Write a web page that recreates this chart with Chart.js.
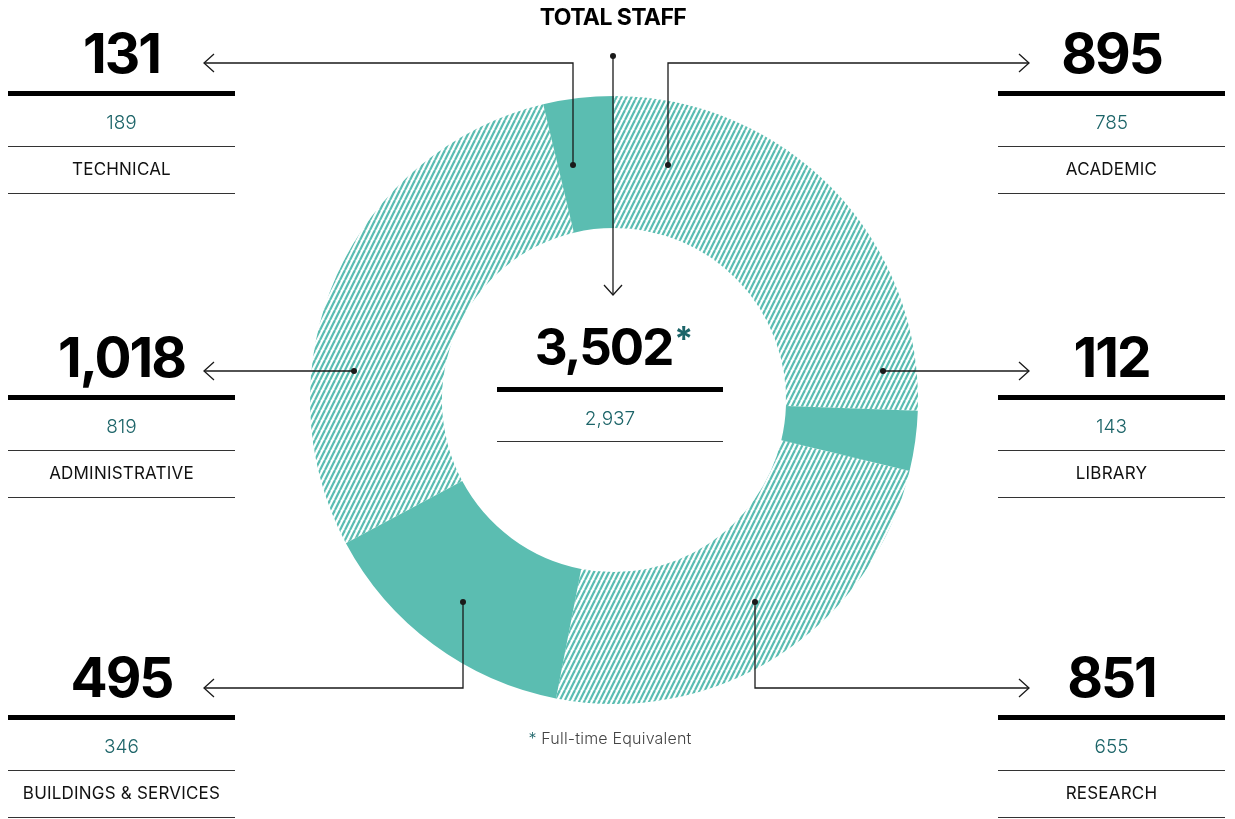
<!DOCTYPE html>
<html>
<head>
<meta charset="utf-8">
<script src="https://cdn.jsdelivr.net/npm/chart.js@4.4.0/dist/chart.umd.min.js"></script>
<style>
body{margin:0;background:#fff;font-family:Inter,"Liberation Sans",Arial,sans-serif;color:#111}
#wrap{position:relative;width:1235px;height:819px;overflow:hidden}
#myChart{position:absolute;left:0;top:0}
.t{position:absolute;text-align:center;white-space:nowrap}
.big{font-weight:700;font-size:55px;line-height:60px;letter-spacing:-2px;color:#000}
.fte{font-size:19px;line-height:24px;color:#1c6468;font-weight:300}
.lab{font-size:17px;line-height:24px;color:#111;letter-spacing:0.2px}
.rule{position:absolute;background:#000}
.thin{position:absolute;height:1px;background:#333}
</style>
</head>
<body>
<div id="wrap">
  <canvas id="myChart" width="1235" height="819"></canvas>
</div>
<script>
// data, clockwise from 12 o'clock
const categories = ['ACADEMIC', 'LIBRARY', 'RESEARCH', 'BUILDINGS & SERVICES', 'ADMINISTRATIVE', 'TECHNICAL']
const headcount = [895, 112, 851, 495, 1018, 131]
const fte = [785, 143, 655, 346, 819, 189]
const hatched = [true, false, true, false, true, false]

const TEAL = '#5bbdb1'
const INK = '#1a1a1a'

// where each category's label block sits (left/right column, row)
const blockSide = ['right', 'right', 'right', 'left', 'left', 'left']
const blockRow = [0, 1, 2, 2, 1, 0]
const rowRule = [91, 395, 715]
const colX = {left: 8, right: 998}

const fmt = n => n.toLocaleString('en-US')

// label blocks
const wrap = document.getElementById('wrap')
function add(cls, txt, x, y, w){
    const d = document.createElement('div')
    d.className = cls
    d.style.left = x + 'px'
    d.style.top = y + 'px'
    if (w) d.style.width = w + 'px'
    if (txt !== null) d.innerHTML = txt
    wrap.appendChild(d)
    return d
}
for (let i = 0; i < categories.length; i++){
    const x = colX[blockSide[i]]
    const R = rowRule[blockRow[i]]
    add('t big', fmt(headcount[i]), x, R - 68, 227)
    const r = add('rule', null, x, R, 227); r.style.height = '5px'
    add('t fte', fmt(fte[i]), x, R + 20, 227)
    add('thin', null, x, R + 55, 227)
    add('t lab', categories[i], x, R + 66, 227)
    add('thin', null, x, R + 102, 227)
}

// centre block
const total = headcount.reduce((a, b) => a + b, 0)
const totalFte = fte.reduce((a, b) => a + b, 0)
const c = add('t big', fmt(total) + '<span style="color:#1c6468;font-size:34px;vertical-align:top;position:relative;top:-8px;margin-left:2px">*</span>', 500, 317, 226)
c.style.fontSize = '51px'
const cr = add('rule', null, 497, 387, 226); cr.style.height = '5px'
add('t fte', fmt(totalFte), 497, 407, 226)
add('thin', null, 497, 441, 226)
const ts = add('t', 'TOTAL STAFF', 513, 4, 200)
ts.style.cssText += 'font-weight:700;font-size:23px;line-height:26px;letter-spacing:-0.6px;color:#000'
const fn = add('t', '<span style="color:#1c6468">*</span> Full-time Equivalent', 510, 728, 200)
fn.style.cssText += 'font-size:16px;line-height:20px;color:#444;font-weight:300;letter-spacing:0.2px'

// hatch fill
function makeHatch(){
    const p = document.createElement('canvas')
    p.width = 5; p.height = 10
    const g = p.getContext('2d')
    g.strokeStyle = TEAL
    g.lineWidth = 2.2
    for (let k = -1; k <= 1; k++){
        g.beginPath()
        g.moveTo(k * 5, 10)
        g.lineTo(k * 5 + 5, 0)
        g.stroke()
    }
    return g.createPattern(p, 'repeat')
}
const hatch = makeHatch()
const fills = hatched.map(h => h ? hatch : TEAL)

// leader lines: dot -> elbow -> arrow
const leaders = [
    [[613, 56], [613, 295]],
    [[668, 165], [668, 63], [1029, 63]],
    [[883, 371], [1029, 371]],
    [[755, 602], [755, 688], [1029, 688]],
    [[463, 602], [463, 688], [204, 688]],
    [[354, 371], [204, 371]],
    [[573, 165], [573, 63], [204, 63]]
]

const leaderPlugin = {
    id: 'leaders',
    afterDraw(chart){
        const g = chart.ctx
        g.save()
        g.strokeStyle = INK
        g.fillStyle = INK
        g.lineWidth = 1.3
        leaders.forEach(pts => {
            g.beginPath()
            g.moveTo(pts[0][0], pts[0][1])
            for (let i = 1; i < pts.length; i++) g.lineTo(pts[i][0], pts[i][1])
            g.stroke()
            g.beginPath()
            g.arc(pts[0][0], pts[0][1], 3, 0, Math.PI * 2)
            g.fill()
            // arrow head
            const [x1, y1] = pts[pts.length - 2]
            const [x2, y2] = pts[pts.length - 1]
            const a = Math.atan2(y2 - y1, x2 - x1)
            g.beginPath()
            g.moveTo(x2 - 10 * Math.cos(a) + 9 * Math.sin(a), y2 - 10 * Math.sin(a) - 9 * Math.cos(a))
            g.lineTo(x2, y2)
            g.lineTo(x2 - 10 * Math.cos(a) - 9 * Math.sin(a), y2 - 10 * Math.sin(a) + 9 * Math.cos(a))
            g.stroke()
        })
        g.restore()
    }
}

const ctx = document.getElementById('myChart')
const chart = new Chart(ctx, {
    type: 'doughnut',
    data: {
        labels: categories,
        datasets: [{
            data: headcount,
            backgroundColor: fills,
            borderWidth: 0,
            hoverOffset: 0
        }]
    },
    options: {
        responsive: false,
        animation: false,
        cutout: '56.6%',
        layout: {padding: {top: 96, bottom: 115, left: 310, right: 317}},
        plugins: {legend: {display: false}, tooltip: {enabled: false}}
    },
    plugins: [leaderPlugin]
})
</script>
</body>
</html>
